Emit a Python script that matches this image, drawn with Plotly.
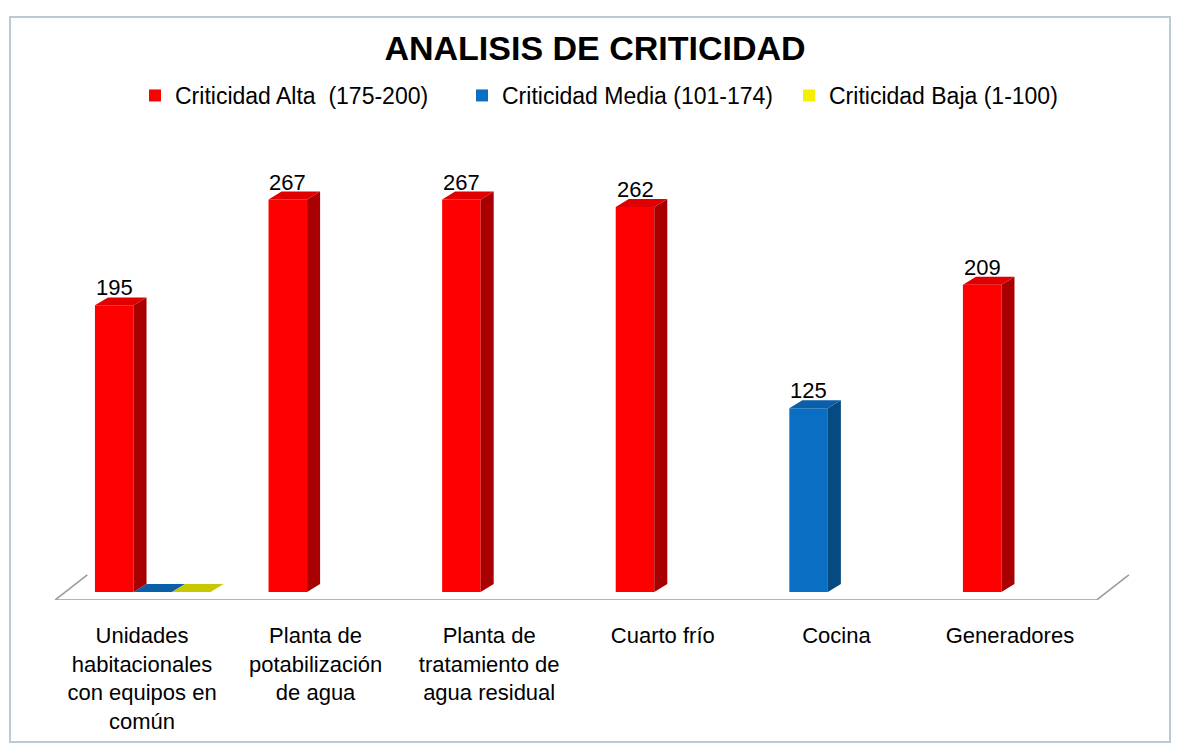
import plotly.graph_objects as go

# ---------------- data ----------------
categories = [
    "Unidades<br>habitacionales<br>con equipos en<br>común",
    "Planta de<br>potabilización<br>de agua",
    "Planta de<br>tratamiento de<br>agua residual",
    "Cuarto frío",
    "Cocina",
    "Generadores",
]
alta = [195, 267, 267, 262, None, 209]
media = [0, None, None, None, 125, None]
baja = [0, None, None, None, None, None]

series_names = [
    "Criticidad Alta  (175-200)",
    "Criticidad Media (101-174)",
    "Criticidad Baja (1-100)",
]

# ---------------- styling / layout ----------------
W, H = 1178, 748
M_T, M_B = 150, 148
PLOT_H = H - M_T - M_B
BAR_W = 0.222          # front-face width (category units)
BASE_OFF = -0.271      # offset of first slot from category centre
DX = 0.075             # 3D depth (x units)
DY = 5.4               # 3D depth (y units)
# slot of each point inside its cluster (layout only)
slots = {
    "alta": [0, 0, 0, 0, 0, 0],
    "media": [1, 0, 0, 0, 0, 0],
    "baja": [2, 0, 0, 0, 0, 0],
}
colors = {
    "alta": ("#ff0000", "#e00000", "#a80000"),
    "media": ("#0a6fc2", "#0a5fa8", "#054a80"),
    "baja": ("#f2f200", "#c8c800", "#9a9a00"),
}
FONT = "Arial, Liberation Sans, sans-serif"

xs = list(range(len(categories)))
fig = go.Figure()


def faces(vals, slot):
    tx, ty, sx, sy = [], [], [], []
    for i, v in enumerate(vals):
        if v is None:
            continue
        xl = i + BASE_OFF + slot[i] * BAR_W
        xr = xl + BAR_W
        tx += [xl, xr, xr + DX, xl + DX, xl, None]
        ty += [v, v, v + DY, v + DY, v, None]
        sx += [xr, xr + DX, xr + DX, xr, xr, None]
        sy += [0, DY, v + DY, v, 0, None]
    return tx, ty, sx, sy


data = {"alta": alta, "media": media, "baja": baja}

# 3D faces (top + side)
for key in ["alta", "media", "baja"]:
    tx, ty, sx, sy = faces(data[key], slots[key])
    front, top, side = colors[key]
    fig.add_trace(go.Scatter(x=sx, y=sy, fill="toself", mode="lines",
                             line=dict(width=0), fillcolor=side,
                             showlegend=False, hoverinfo="skip"))
    fig.add_trace(go.Scatter(x=tx, y=ty, fill="toself", mode="lines",
                             line=dict(width=0), fillcolor=top,
                             showlegend=False, hoverinfo="skip"))

# front faces
for key, name in zip(["alta", "media", "baja"], series_names):
    offs = [BASE_OFF + s * BAR_W for s in slots[key]]
    fig.add_trace(go.Bar(x=xs, y=data[key], name=name, width=BAR_W,
                         offset=offs, marker=dict(color=colors[key][0], line=dict(width=0))))

# value labels
annotations = []
for key in ["alta", "media"]:
    for i, v in enumerate(data[key]):
        if v is None or v == 0:
            continue
        xc = i + BASE_OFF + slots[key][i] * BAR_W + BAR_W / 2
        annotations.append(dict(x=xc, y=v, text=str(v), showarrow=False,
                                xanchor="center", yanchor="bottom", yshift=3,
                                font=dict(size=22, color="#000000", family=FONT)))

# floor outline (front edge + slanted sides)
fl, fr = -0.5, len(categories) - 0.5
floor_y = -5.4
shapes = [
    dict(type="line", xref="x", yref="y", x0=fl, x1=fr, y0=floor_y, y1=floor_y,
         line=dict(color="#9a9a9a", width=1.5)),
    dict(type="line", xref="x", yref="y", x0=fl, x1=fl + 0.185, y0=floor_y, y1=floor_y + 17,
         line=dict(color="#9a9a9a", width=1.5)),
    dict(type="line", xref="x", yref="y", x0=fr, x1=fr + 0.185, y0=floor_y, y1=floor_y + 17,
         line=dict(color="#9a9a9a", width=1.5)),
    # chart-area frame (pixel positions converted to paper coords)
    dict(type="rect", xref="paper", yref="paper", x0=10 / W, x1=1170 / W,
         y0=(H - M_B - 742) / PLOT_H, y1=(H - M_B - 17) / PLOT_H,
         line=dict(color="#b9ccd6", width=2), layer="below"),
]

fig.update_layout(
    width=W, height=H,
    paper_bgcolor="white", plot_bgcolor="white",
    margin=dict(l=0, r=0, t=M_T, b=M_B, autoexpand=False),
    barmode="overlay",
    font=dict(family=FONT, color="#000000"),
    title=dict(text="<b>ANALISIS DE CRITICIDAD</b>", x=595 / W, xanchor="center",
               y=1 - 48 / H, yanchor="middle", yref="container",
               font=dict(size=34, family=FONT, color="#000000")),
    legend=dict(orientation="h", x=135 / W, xanchor="left", y=1 - 74 / H,
                yanchor="top", yref="container", font=dict(size=23),
                traceorder="normal", itemwidth=30, entrywidth=282,
                entrywidthmode="pixels", bgcolor="rgba(0,0,0,0)"),
    xaxis=dict(range=[-0.818, 5.968], tickvals=xs, ticktext=categories,
               showgrid=False, zeroline=False, showline=False, ticks="",
               ticklabelstandoff=20, automargin=False,
               tickfont=dict(size=22, family=FONT, color="#000000")),
    yaxis=dict(range=[-5.44, 300.7], visible=False, showgrid=False, zeroline=False),
    annotations=annotations,
    shapes=shapes,
    showlegend=True,
)

fig.write_html("out.html")
